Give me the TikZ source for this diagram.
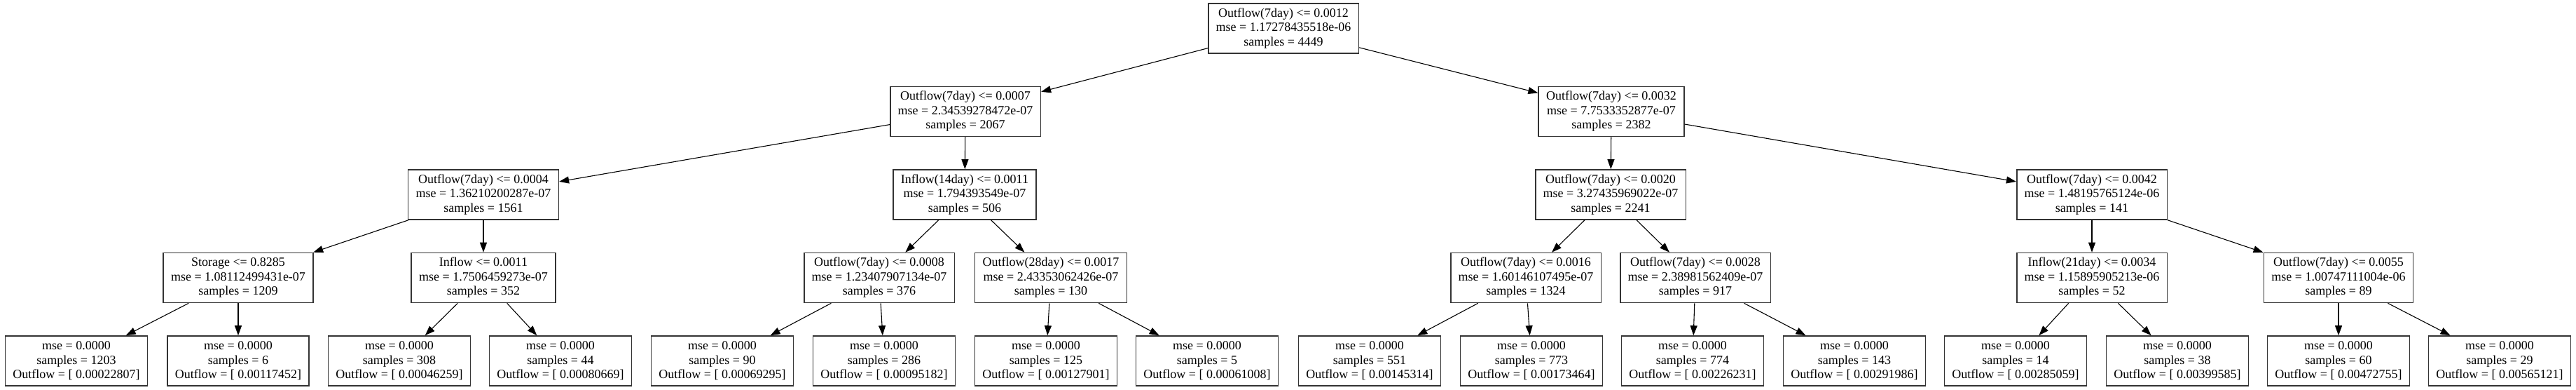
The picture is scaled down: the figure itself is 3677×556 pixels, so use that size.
\documentclass[tikz,border=0pt]{standalone}
\usepackage{fontspec}
\setmainfont{Liberation Serif}
\usetikzlibrary{arrows.meta}
\begin{document}
\begin{tikzpicture}[x=1pt,y=-1pt,
  tbox/.style={draw=black!80,line width=1.6pt,fill=white,rectangle,align=center,
    font=\fontsize{18}{20.5}\selectfont,inner xsep=11pt,inner ysep=2pt,minimum height=71pt},
  edge/.style={draw=black,line width=1.1pt,-{Triangle[length=14pt,width=10pt]}}]
\useasboundingbox (0,0) rectangle (3677,556);
\fill[white] (0,0) rectangle (3677,556);
% internal nodes
\node[tbox] (root) at (1832,40.5) {Outflow(7day) <= 0.0012\\mse = 1.17278435518e-06\\samples = 4449};
\node[tbox] (n1) at (1378,159) {Outflow(7day) <= 0.0007\\mse = 2.34539278472e-07\\samples = 2067};
\node[tbox] (n2) at (2300,159) {Outflow(7day) <= 0.0032\\mse = 7.7533352877e-07\\samples = 2382};
\node[tbox] (n3) at (690,277.5) {Outflow(7day) <= 0.0004\\mse = 1.36210200287e-07\\samples = 1561};
\node[tbox] (n4) at (1377,277.5) {Inflow(14day) <= 0.0011\\mse = 1.794393549e-07\\samples = 506};
\node[tbox] (n5) at (2299,277.5) {Outflow(7day) <= 0.0020\\mse = 3.27435969022e-07\\samples = 2241};
\node[tbox] (n6) at (2986,277.5) {Outflow(7day) <= 0.0042\\mse = 1.48195765124e-06\\samples = 141};
\node[tbox] (n7) at (340,396) {Storage <= 0.8285\\mse = 1.08112499431e-07\\samples = 1209};
\node[tbox] (n8) at (690,396) {Inflow <= 0.0011\\mse = 1.7506459273e-07\\samples = 352};
\node[tbox] (n9) at (1255,396) {Outflow(7day) <= 0.0008\\mse = 1.23407907134e-07\\samples = 376};
\node[tbox] (n10) at (1500,396) {Outflow(28day) <= 0.0017\\mse = 2.43353062426e-07\\samples = 130};
\node[tbox] (n11) at (2178,396) {Outflow(7day) <= 0.0016\\mse = 1.60146107495e-07\\samples = 1324};
\node[tbox] (n12) at (2420,396) {Outflow(7day) <= 0.0028\\mse = 2.38981562409e-07\\samples = 917};
\node[tbox] (n13) at (2986,396) {Inflow(21day) <= 0.0034\\mse = 1.15895905213e-06\\samples = 52};
\node[tbox] (n14) at (3338,396) {Outflow(7day) <= 0.0055\\mse = 1.00747111004e-06\\samples = 89};
% leaves
\node[tbox] (l1) at (109,514.5) {mse = 0.0000\\samples = 1203\\Outflow = [ 0.00022807]};
\node[tbox] (l2) at (340,514.5) {mse = 0.0000\\samples = 6\\Outflow = [ 0.00117452]};
\node[tbox] (l3) at (570,514.5) {mse = 0.0000\\samples = 308\\Outflow = [ 0.00046259]};
\node[tbox] (l4) at (800,514.5) {mse = 0.0000\\samples = 44\\Outflow = [ 0.00080669]};
\node[tbox] (l5) at (1031,514.5) {mse = 0.0000\\samples = 90\\Outflow = [ 0.00069295]};
\node[tbox] (l6) at (1262,514.5) {mse = 0.0000\\samples = 286\\Outflow = [ 0.00095182]};
\node[tbox] (l7) at (1493,514.5) {mse = 0.0000\\samples = 125\\Outflow = [ 0.00127901]};
\node[tbox] (l8) at (1723,514.5) {mse = 0.0000\\samples = 5\\Outflow = [ 0.00061008]};
\node[tbox] (l9) at (1955,514.5) {mse = 0.0000\\samples = 551\\Outflow = [ 0.00145314]};
\node[tbox] (l10) at (2186,514.5) {mse = 0.0000\\samples = 773\\Outflow = [ 0.00173464]};
\node[tbox] (l11) at (2416,514.5) {mse = 0.0000\\samples = 774\\Outflow = [ 0.00226231]};
\node[tbox] (l12) at (2647,514.5) {mse = 0.0000\\samples = 143\\Outflow = [ 0.00291986]};
\node[tbox] (l13) at (2877,514.5) {mse = 0.0000\\samples = 14\\Outflow = [ 0.00285059]};
\node[tbox] (l14) at (3108,514.5) {mse = 0.0000\\samples = 38\\Outflow = [ 0.00399585]};
\node[tbox] (l15) at (3338,514.5) {mse = 0.0000\\samples = 60\\Outflow = [ 0.00472755]};
\node[tbox] (l16) at (3568,514.5) {mse = 0.0000\\samples = 29\\Outflow = [ 0.00565121]};
% edges
\draw[edge] (root) -- (n1);
\draw[edge] (root) -- (n2);
\draw[edge] (n1) -- (n3);
\draw[edge] (n1) -- (n4);
\draw[edge] (n2) -- (n5);
\draw[edge] (n2) -- (n6);
\draw[edge] (n3) -- (n7);
\draw[edge] (n3) -- (n8);
\draw[edge] (n4) -- (n9);
\draw[edge] (n4) -- (n10);
\draw[edge] (n5) -- (n11);
\draw[edge] (n5) -- (n12);
\draw[edge] (n6) -- (n13);
\draw[edge] (n6) -- (n14);
\draw[edge] (n7) -- (l1);
\draw[edge] (n7) -- (l2);
\draw[edge] (n8) -- (l3);
\draw[edge] (n8) -- (l4);
\draw[edge] (n9) -- (l5);
\draw[edge] (n9) -- (l6);
\draw[edge] (n10) -- (l7);
\draw[edge] (n10) -- (l8);
\draw[edge] (n11) -- (l9);
\draw[edge] (n11) -- (l10);
\draw[edge] (n12) -- (l11);
\draw[edge] (n12) -- (l12);
\draw[edge] (n13) -- (l13);
\draw[edge] (n13) -- (l14);
\draw[edge] (n14) -- (l15);
\draw[edge] (n14) -- (l16);
\end{tikzpicture}
\end{document}
